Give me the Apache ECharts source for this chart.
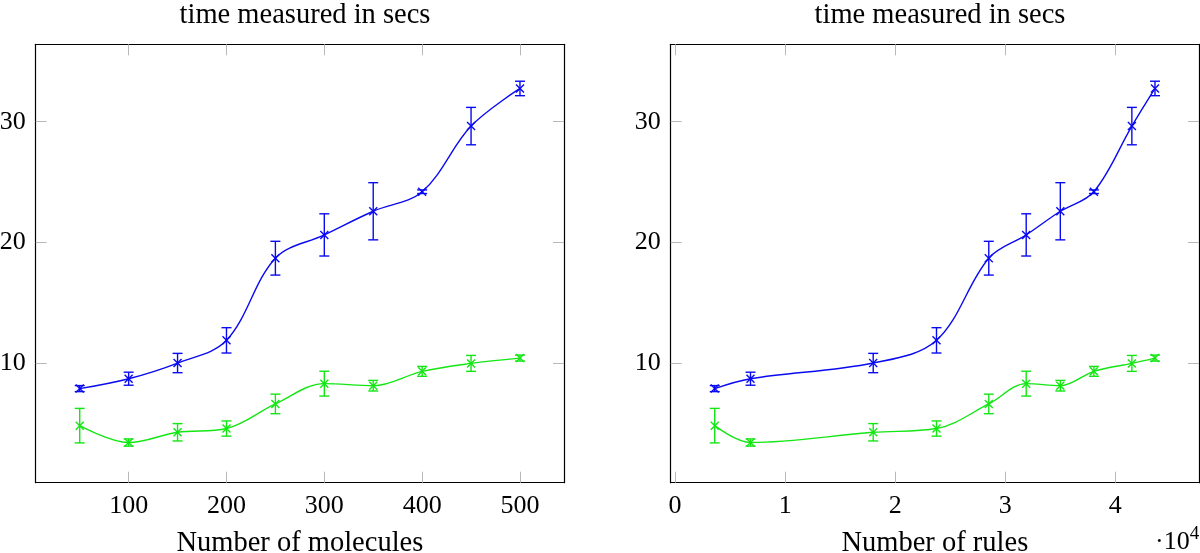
<!DOCTYPE html>
<html>
<head>
<meta charset="utf-8">
<script src="https://cdn.jsdelivr.net/npm/echarts@6/dist/echarts.min.js"></script>
<style>
html,body{margin:0;padding:0;background:#fff;}
#chart{width:1200px;height:553px;}
</style>
</head>
<body>
<div id="chart"></div>
<script>
// ---- data ----
const titleText = 'time measured in secs';
const molecules = [50, 100, 150, 200, 250, 300, 350, 400, 450, 500];
const rules = [3600, 6850, 18000, 23750, 28500, 31900, 35000, 38050, 41500, 43600];
const blueMean = [7.88, 8.7, 10.0, 11.88, 18.69, 20.62, 22.58, 24.2, 29.64, 32.76];
const blueErr = [0.25, 0.54, 0.8, 1.05, 1.4, 1.75, 2.37, 0.15, 1.55, 0.6];
const greenMean = [4.81, 3.41, 4.26, 4.57, 6.61, 8.29, 8.12, 9.31, 9.97, 10.41];
const greenErr = [1.43, 0.3, 0.72, 0.63, 0.81, 1.03, 0.44, 0.41, 0.66, 0.25];
const yTicks = [10, 20, 30];
const moleculeTicks = [100, 200, 300, 400, 500];
const ruleTicks = [0, 10000, 20000, 30000, 40000];

const BLUE = '#0a0af0';
const GREEN = '#14e614';
const FONT = 'Liberation Serif';
const FS = 26;
const FST = 28.5;
const TICKC = '#b8b8b8';

const chart = echarts.init(document.getElementById('chart'), null, {renderer: 'canvas'});

function errRender(color) {
  return function (params, api) {
    const x = api.value(0), y = api.value(1), e = api.value(2);
    const c = api.coord([x, y]);
    const t = api.coord([x, y + e]);
    const b = api.coord([x, y - e]);
    const w = 5, m = 4;
    const st = {stroke: color, lineWidth: 1.4, fill: null};
    return {
      type: 'group',
      children: [
        {type: 'line', shape: {x1: t[0], y1: t[1], x2: b[0], y2: b[1]}, style: st},
        {type: 'line', shape: {x1: t[0] - w, y1: t[1], x2: t[0] + w, y2: t[1]}, style: st},
        {type: 'line', shape: {x1: b[0] - w, y1: b[1], x2: b[0] + w, y2: b[1]}, style: st},
        {type: 'line', shape: {x1: c[0] - m, y1: c[1] - m, x2: c[0] + m, y2: c[1] + m}, style: st},
        {type: 'line', shape: {x1: c[0] - m, y1: c[1] + m, x2: c[0] + m, y2: c[1] - m}, style: st}
      ]
    };
  };
}

function xAxisPair(gi, min, max, ticks, fmt, name) {
  const common = {
    type: 'value', gridIndex: gi, min: min, max: max,
    splitLine: {show: false},
    axisLine: {show: true, onZero: false, lineStyle: {color: '#000', width: 1.2}},
    axisTick: {show: true, inside: true, length: 11, customValues: ticks, lineStyle: {color: TICKC, width: 1}}
  };
  return [
    Object.assign({}, common, {
      position: 'bottom',
      axisLabel: {show: true, customValues: ticks, formatter: fmt, fontFamily: FONT, fontSize: FS, color: '#000', margin: 10},
      name: name, nameLocation: 'middle', nameGap: 46,
      nameTextStyle: {fontFamily: FONT, fontSize: FST, color: '#000'}
    }),
    Object.assign({}, common, {position: 'top', axisLabel: {show: false}})
  ];
}

function yAxisPair(gi) {
  const common = {
    type: 'value', gridIndex: gi, min: 0.08, max: 36.42,
    splitLine: {show: false},
    axisLine: {show: true, onZero: false, lineStyle: {color: '#000', width: 1.2}},
    axisTick: {show: true, inside: true, length: 11, customValues: yTicks, lineStyle: {color: TICKC, width: 1}}
  };
  return [
    Object.assign({}, common, {
      position: 'left',
      axisLabel: {show: true, customValues: yTicks, fontFamily: FONT, fontSize: FS, color: '#000', margin: 10}
    }),
    Object.assign({}, common, {position: 'right', axisLabel: {show: false}})
  ];
}

const xs = [].concat(
  xAxisPair(0, 5, 545, moleculeTicks, v => String(v), 'Number of molecules'),
  xAxisPair(1, -400, 47600, ruleTicks, v => String(v / 10000), 'Number of rules')
);
const ys = [].concat(yAxisPair(0), yAxisPair(1));

function lineSeries(xi, yi, xv, yv, color) {
  return {
    type: 'line', xAxisIndex: xi, yAxisIndex: yi,
    data: xv.map((x, i) => [x, yv[i]]),
    smooth: 0.35, showSymbol: false, symbol: 'none',
    lineStyle: {color: color, width: 1.4}, z: 2, animation: false
  };
}
function errSeries(xi, yi, xv, yv, ev, color) {
  return {
    type: 'custom', xAxisIndex: xi, yAxisIndex: yi,
    data: xv.map((x, i) => [x, yv[i], ev[i]]),
    renderItem: errRender(color), z: 3, animation: false, clip: false
  };
}

const option = {
  animation: false,
  backgroundColor: '#fff',
  title: [
    {text: titleText, left: 300, top: -4, textAlign: 'center',
     textStyle: {fontFamily: FONT, fontSize: FST, fontWeight: 'normal', color: '#000'}},
    {text: titleText, left: 935, top: -4, textAlign: 'center',
     textStyle: {fontFamily: FONT, fontSize: FST, fontWeight: 'normal', color: '#000'}},
    {text: '·10{s|4}', left: 1150, top: 520,
     textStyle: {fontFamily: FONT, fontSize: FS, fontWeight: 'normal', color: '#000',
       rich: {s: {fontFamily: FONT, fontSize: 19, color: '#000', verticalAlign: 'top', padding: [0, 0, 16, 0]}}}}
  ],
  grid: [
    {left: 35.7, right: 636, top: 44.3, bottom: 70.3, containLabel: false, outerBoundsMode: 'none'},
    {left: 670.7, right: 1, top: 44.3, bottom: 70.3, containLabel: false, outerBoundsMode: 'none'}
  ],
  xAxis: xs,
  yAxis: ys,
  series: [
    lineSeries(0, 0, molecules, blueMean, BLUE),
    lineSeries(0, 0, molecules, greenMean, GREEN),
    errSeries(0, 0, molecules, blueMean, blueErr, BLUE),
    errSeries(0, 0, molecules, greenMean, greenErr, GREEN),
    lineSeries(2, 2, rules, blueMean, BLUE),
    lineSeries(2, 2, rules, greenMean, GREEN),
    errSeries(2, 2, rules, blueMean, blueErr, BLUE),
    errSeries(2, 2, rules, greenMean, greenErr, GREEN)
  ]
};
chart.setOption(option);
</script>
</body>
</html>
